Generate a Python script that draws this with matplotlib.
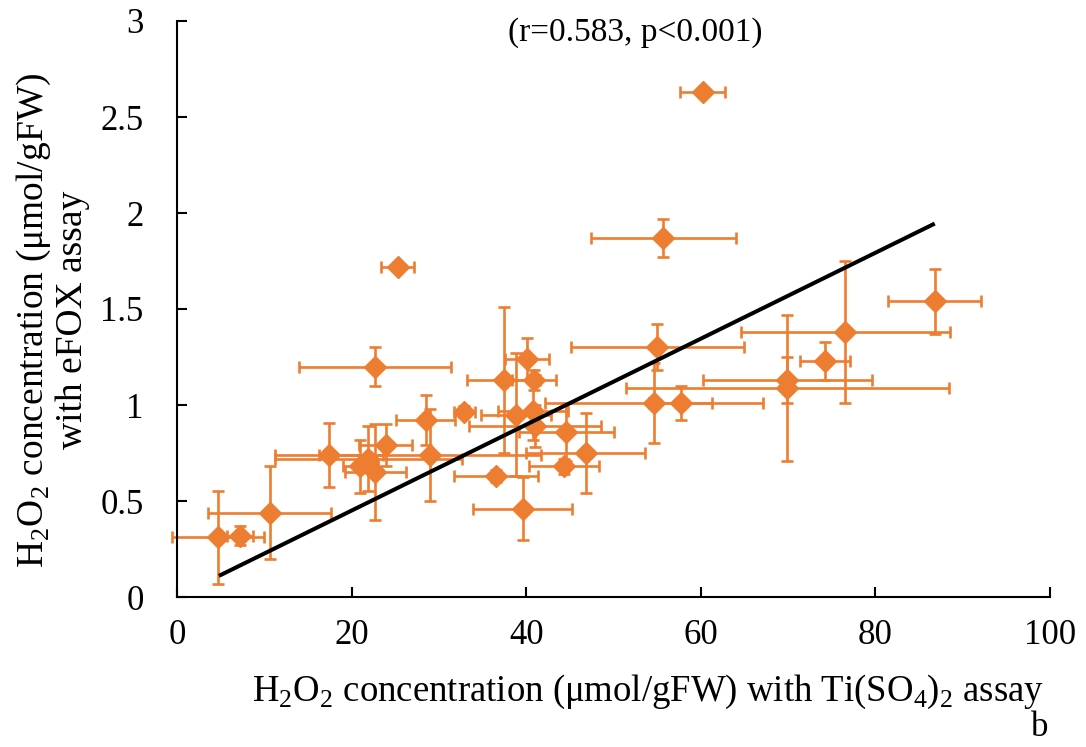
import matplotlib
matplotlib.use("Agg")
import matplotlib.pyplot as plt
import numpy as np

plt.rcParams['font.family'] = ['Liberation Serif', 'DejaVu Serif']
plt.rcParams['mathtext.fontset'] = 'custom'
plt.rcParams['mathtext.rm'] = 'Liberation Serif'

# Data
ti_x = [4.7, 7.2, 10.6, 17.4, 21.0, 21.9, 22.7, 22.7, 23.9, 25.3, 28.5, 29.0,
        32.9, 36.5, 37.4, 39.6, 38.8, 40.1, 40.9, 40.8, 41.0, 44.6, 44.3, 46.8,
        54.6, 55.0, 55.7, 57.7, 60.2, 69.9, 69.9, 74.2, 76.55, 86.8]
efox_y = [0.31, 0.32, 0.44, 0.74, 0.68, 0.72, 0.65, 1.20, 0.79, 1.72, 0.92, 0.74,
          0.965, 0.63, 1.13, 0.46, 0.95, 1.24, 1.13, 0.97, 0.89, 0.86, 0.68, 0.75,
          1.01, 1.30, 1.87, 1.01, 2.63, 1.09, 1.13, 1.23, 1.38, 1.54]
ti_err = [5.3, 1.5, 7.0, 6.2, 2.0, 10.7, 3.5, 8.7, 3.0, 1.9, 3.4, 12.7,
          1.2, 4.8, 4.2, 5.7, 4.0, 2.5, 2.5, 4.0, 7.6, 5.4, 4.0, 6.8,
          12.5, 9.9, 8.3, 3.6, 2.6, 18.5, 9.7, 2.85, 12.0, 5.3]
efox_err = [0.24, 0.05, 0.24, 0.165, 0.14, 0.17, 0.25, 0.10, 0.11, 0.02, 0.13, 0.24,
            0.03, 0.03, 0.38, 0.165, 0.32, 0.11, 0.05, 0.15, 0.11, 0.15, 0.04, 0.21,
            0.21, 0.12, 0.10, 0.09, 0.02, 0.38, 0.12, 0.10, 0.37, 0.17]

trend_x = [4.8, 86.8]
trend_y = [0.11, 1.945]

x_ticks = [0, 20, 40, 60, 80, 100]
y_ticks = [0, 0.5, 1, 1.5, 2, 2.5, 3]
y_ticklabels = ['0', '0.5', '1', '1.5', '2', '2.5', '3']

orange = '#ED7D31'

fig = plt.figure(figsize=(10.86, 7.47), dpi=100)
ax = fig.add_axes([177/1086, 150/747, 873/1086, 576/747])

eb = ax.errorbar(ti_x, efox_y, xerr=ti_err, yerr=efox_err, fmt='D', color=orange,
                 ecolor=orange, markersize=11, elinewidth=1.9, capsize=4.3,
                 capthick=1.9, zorder=2)
for art in list(eb.lines[1]) + list(eb.lines[2]):
    art.set_clip_on(False)

ax.plot(trend_x, trend_y, color='black', linewidth=2.9, solid_capstyle='butt', zorder=3)

ax.set_xlim(0, 100)
ax.set_ylim(0, 3)
ax.set_xticks(x_ticks)
ax.set_yticks(y_ticks)
ax.set_yticklabels(y_ticklabels)
for s in ['top', 'right']:
    ax.spines[s].set_visible(False)
for s in ['left', 'bottom']:
    ax.spines[s].set_linewidth(1.5)
ax.tick_params(axis='both', direction='in', length=7.5, width=1.5, labelsize=25)
ax.tick_params(axis='x', pad=16)
ax.tick_params(axis='y', pad=24)

ax.text(0.525, 0.979, '(r=0.583, p<0.001)', transform=ax.transAxes,
        ha='center', va='center', fontsize=24)

fig.text(648/1086, 1 - 692/747,
         r'H$_\mathregular{2}$O$_\mathregular{2}$ concentration (μmol/gFW) with Ti(SO$_\mathregular{4}$)$_\mathregular{2}$ assay',
         ha='center', va='center', fontsize=26.5)
fig.text(52/1086, 1 - 320/747,
         'H$_\\mathregular{2}$O$_\\mathregular{2}$ concentration (μmol/gFW)\nwith eFOX assay',
         ha='center', va='center', rotation=90, fontsize=27, multialignment='center',
         linespacing=1.1)
fig.text(1040/1086, 1 - 728/747, 'b', ha='center', va='center', fontsize=25)

fig.savefig('out.png', dpi=100)
